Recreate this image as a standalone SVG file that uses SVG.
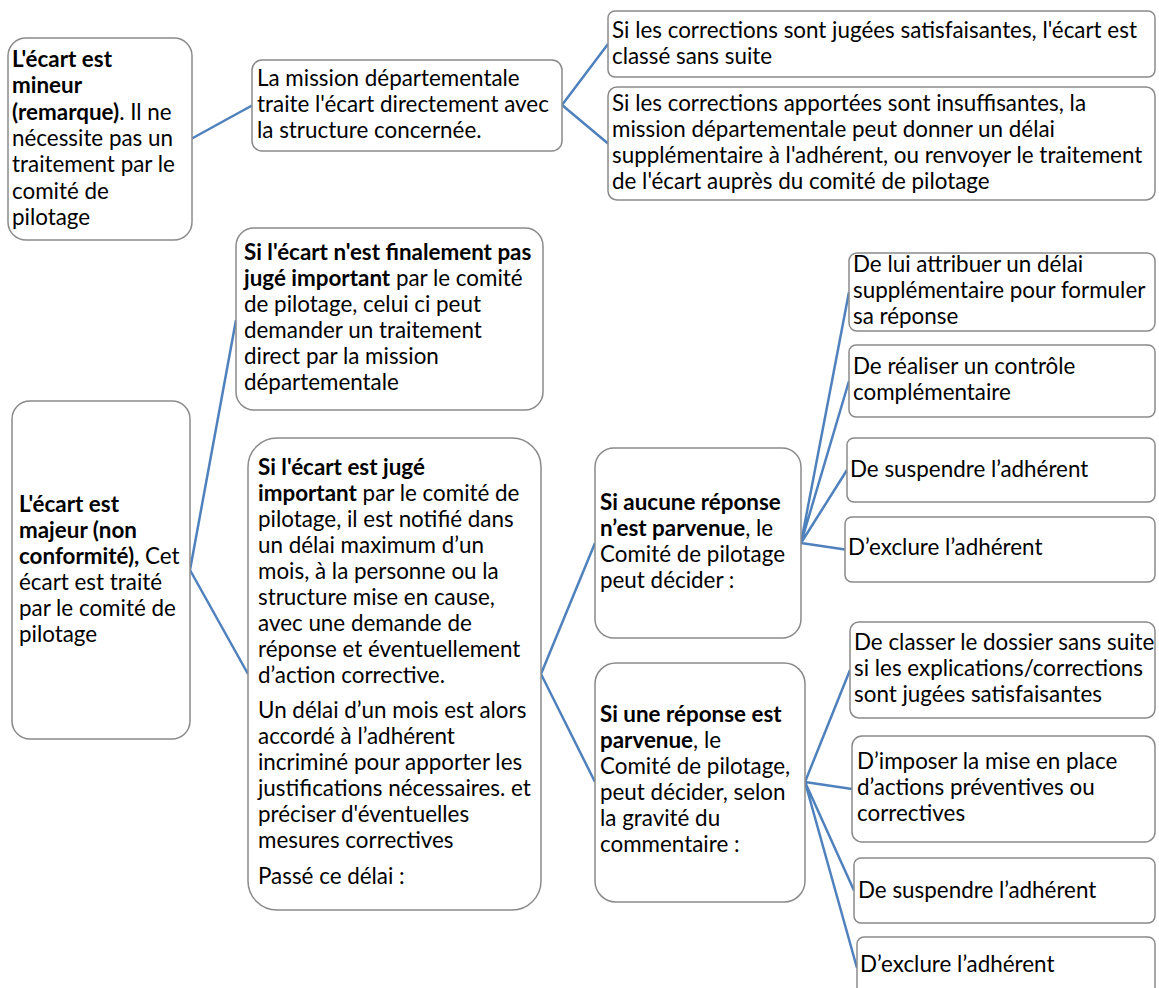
<svg xmlns="http://www.w3.org/2000/svg" width="1159" height="988" viewBox="0 0 1159 988">
<style>
.box{fill:#fff;stroke:#8a8a8a;stroke-width:1.5}
text{font-family:Lato,"Open Sans","Liberation Sans",sans-serif;font-size:22.4px;fill:#000}
.b{font-weight:bold}
.con{stroke:#4f81bd;stroke-width:2.5;fill:none}
</style>
<rect width="1159" height="988" fill="#fff"/>
<g id="connectors">
<path class="con" d="M191,139 L252,105.5"/>
<path class="con" d="M562,105 L608,44 M562,105 L608,143.5"/>
<path class="con" d="M190,570 L236,320 M190,570 L248,674"/>
<path class="con" d="M541,674 L595,543 M541,674 L595,782"/>
<path class="con" d="M801,543 L849,292 M801,543 L849,381 M801,543 L847,470 M801,543 L845,549.5"/>
<path class="con" d="M805,782 L850,670 M805,782 L852,789 M805,782 L854,890.5 M805,782 L857,968"/>
</g>
<g id="n-mineur">
<rect class="box" x="8" y="38" width="184" height="202" rx="18"/>
<text x="12" y="67"><tspan class="b">L'écart est</tspan><tspan x="12" dy="26.3" class="b">mineur</tspan><tspan x="12" dy="26.3"><tspan class="b">(remarque)</tspan>. Il ne</tspan><tspan x="12" dy="26.3">nécessite pas un</tspan><tspan x="12" dy="26.3">traitement par le</tspan><tspan x="12" dy="26.3">comité de</tspan><tspan x="12" dy="26.3">pilotage</tspan></text>
</g>
<g id="n-mission">
<rect class="box" x="252" y="60" width="310" height="91" rx="10"/>
<text x="257" y="86">La mission départementale<tspan x="257" dy="26">traite l'écart directement avec</tspan><tspan x="257" dy="26">la structure concernée.</tspan></text>
</g>
<g id="n-satisf">
<rect class="box" x="608" y="11" width="547" height="66" rx="7"/>
<text x="612" y="38">Si les corrections sont jugées satisfaisantes, l'écart est<tspan x="612" dy="26">classé sans suite</tspan></text>
</g>
<g id="n-insuff">
<rect class="box" x="608" y="87" width="547" height="113" rx="9"/>
<text x="612" y="111">Si les corrections apportées sont insuffisantes, la<tspan x="612" dy="26">mission départementale peut donner un délai</tspan><tspan x="612" dy="26">supplémentaire à l'adhérent, ou renvoyer le traitement</tspan><tspan x="612" dy="26">de l'écart auprès du comité de pilotage</tspan></text>
</g>
<g id="n-pasimportant">
<rect class="box" x="236" y="228" width="307" height="182" rx="18"/>
<text x="244" y="260"><tspan class="b">Si l'écart n'est finalement pas</tspan><tspan x="244" dy="26"><tspan class="b">jugé important</tspan> par le comité</tspan><tspan x="244" dy="26">de pilotage, celui ci peut</tspan><tspan x="244" dy="26">demander un traitement</tspan><tspan x="244" dy="26">direct par la mission</tspan><tspan x="244" dy="26">départementale</tspan></text>
</g>
<g id="n-majeur">
<rect class="box" x="12" y="401" width="178" height="338" rx="18"/>
<text x="19" y="512"><tspan class="b">L'écart est</tspan><tspan x="19" dy="26" class="b">majeur (non</tspan><tspan x="19" dy="26"><tspan class="b">conformité),</tspan> Cet</tspan><tspan x="19" dy="26">écart est traité</tspan><tspan x="19" dy="26">par le comité de</tspan><tspan x="19" dy="26">pilotage</tspan></text>
</g>
<g id="n-important">
<rect class="box" x="248" y="438" width="293" height="472" rx="29"/>
<text x="258" y="475"><tspan class="b">Si l'écart est jugé</tspan><tspan x="258" dy="26"><tspan class="b">important</tspan> par le comité de</tspan><tspan x="258" dy="26">pilotage, il est notifié dans</tspan><tspan x="258" dy="26">un délai maximum d’un</tspan><tspan x="258" dy="26">mois, à la personne ou la</tspan><tspan x="258" dy="26">structure mise en cause,</tspan><tspan x="258" dy="26">avec une demande de</tspan><tspan x="258" dy="26">réponse et éventuellement</tspan><tspan x="258" dy="26">d’action corrective.</tspan></text>
<text x="258" y="718">Un délai d’un mois est alors<tspan x="258" dy="26">accordé à l’adhérent</tspan><tspan x="258" dy="26">incriminé pour apporter les</tspan><tspan x="258" dy="26">justifications nécessaires. et</tspan><tspan x="258" dy="26">préciser d'éventuelles</tspan><tspan x="258" dy="26">mesures correctives</tspan></text>
<text x="258" y="884">Passé ce délai :</text>
</g>
<g id="n-aucune">
<rect class="box" x="595" y="448" width="206" height="190" rx="19"/>
<text x="600" y="510"><tspan class="b">Si aucune réponse</tspan><tspan x="600" dy="26"><tspan class="b">n’est parvenue</tspan>, le</tspan><tspan x="600" dy="26">Comité de pilotage</tspan><tspan x="600" dy="26">peut décider :</tspan></text>
</g>
<g id="n-une">
<rect class="box" x="595" y="663" width="210" height="239" rx="21"/>
<text x="600" y="722"><tspan class="b">Si une réponse est</tspan><tspan x="600" dy="26"><tspan class="b">parvenue</tspan>, le</tspan><tspan x="600" dy="26">Comité de pilotage,</tspan><tspan x="600" dy="26">peut décider, selon</tspan><tspan x="600" dy="26">la gravité du</tspan><tspan x="600" dy="26">commentaire :</tspan></text>
</g>
<g id="n-a1">
<rect class="box" x="849" y="253" width="306" height="78" rx="8"/>
<text x="853" y="272">De lui attribuer un délai<tspan x="853" dy="26">supplémentaire pour formuler</tspan><tspan x="853" dy="26">sa réponse</tspan></text>
</g>
<g id="n-a2">
<rect class="box" x="849" y="345" width="306" height="72" rx="7"/>
<text x="853" y="374">De réaliser un contrôle<tspan x="853" dy="26">complémentaire</tspan></text>
</g>
<g id="n-a3">
<rect class="box" x="847" y="438" width="308" height="64" rx="7"/>
<text x="850" y="477">De suspendre l’adhérent</text>
</g>
<g id="n-a4">
<rect class="box" x="845" y="517" width="310" height="65" rx="7"/>
<text x="848" y="555">D’exclure l’adhérent</text>
</g>
<g id="n-b1">
<rect class="box" x="850" y="622" width="305" height="96" rx="9"/>
<text x="854" y="650">De classer le dossier sans suite<tspan x="854" dy="26">si les explications/corrections</tspan><tspan x="854" dy="26">sont jugées satisfaisantes</tspan></text>
</g>
<g id="n-b2">
<rect class="box" x="852" y="736" width="303" height="106" rx="10"/>
<text x="857" y="769">D’imposer la mise en place<tspan x="857" dy="26">d’actions préventives ou</tspan><tspan x="857" dy="26">correctives</tspan></text>
</g>
<g id="n-b3">
<rect class="box" x="854" y="858" width="301" height="65" rx="7"/>
<text x="858" y="898">De suspendre l’adhérent</text>
</g>
<g id="n-b4">
<rect class="box" x="857" y="937" width="298" height="62" rx="7"/>
<text x="860" y="972">D’exclure l’adhérent</text>
</g>
</svg>
